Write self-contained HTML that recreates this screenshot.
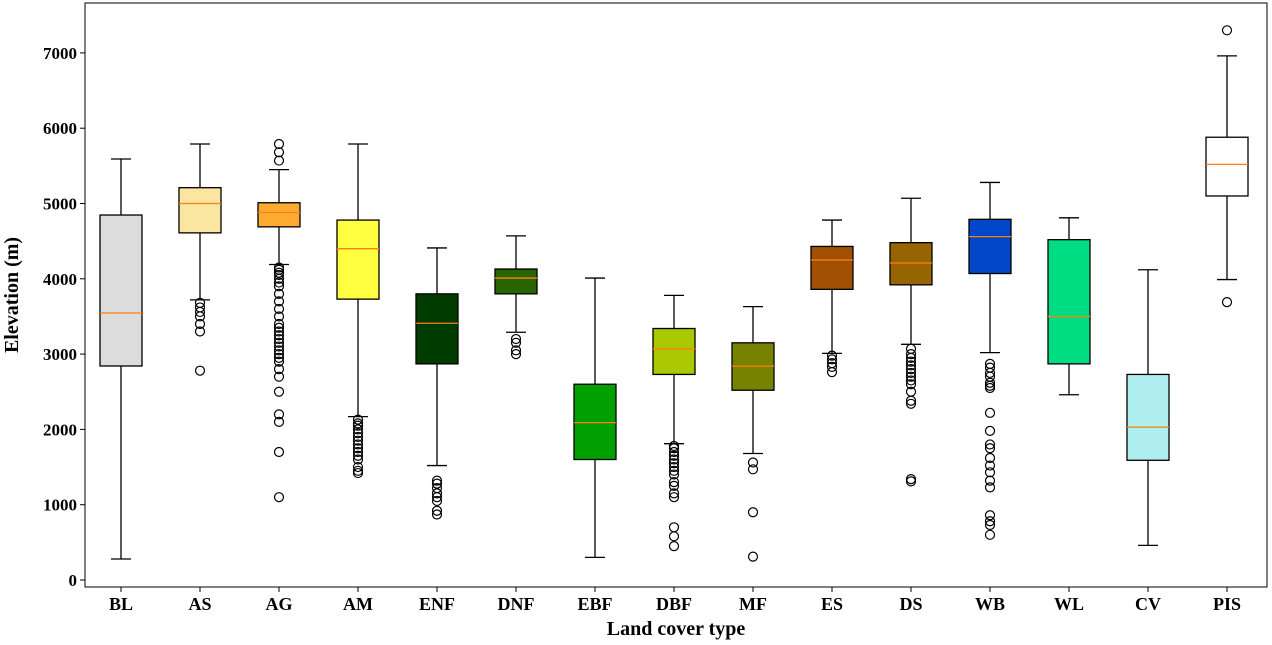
<!DOCTYPE html>
<html><head><meta charset="utf-8"><style>
body{margin:0;background:#fff;}
svg text{font-family:"Liberation Serif",serif;font-weight:bold;}
</style></head><body>
<svg id="chart" width="1272" height="640" xmlns="http://www.w3.org/2000/svg"></svg>
<script>
const categories=["BL","AS","AG","AM","ENF","DNF","EBF","DBF","MF","ES","DS","WB","WL","CV","PIS"];
const whiskerLow=[279,3720,4190,2170,1520,3290,300,1810,1680,3010,3130,3020,2460,460,3990];
const q1=[2842,4610,4690,3730,2870,3800,1600,2730,2520,3860,3920,4070,2870,1590,5100];
const medians=[3546,5000,4880,4400,3410,4010,2090,3070,2840,4250,4210,4560,3500,2030,5520];
const q3=[4847,5210,5010,4780,3800,4130,2600,3340,3150,4430,4480,4790,4520,2730,5880];
const whiskerHigh=[5591,5790,5450,5790,4410,4570,4010,3780,3630,4780,5070,5280,4810,4120,6960];
const outliers=[[],[3680,3620,3560,3500,3400,3300,2780],
[5790,5680,5570,4150,4120,4080,4050,4000,3950,3900,3800,3700,3600,3500,3400,3350,3300,3250,3200,3150,3100,3050,3000,2950,2900,2800,2700,2500,2200,2100,1700,1100],
[2130,2080,2050,2000,1950,1900,1850,1800,1750,1700,1650,1600,1500,1450,1420],
[1320,1280,1220,1150,1100,1050,920,870],
[3200,3150,3050,3000],[],
[1780,1750,1700,1650,1600,1550,1500,1450,1400,1300,1250,1150,1100,700,580,450],
[1560,1470,900,310],
[2980,2930,2880,2830,2760],
[3070,3000,2950,2900,2850,2800,2750,2700,2650,2600,2500,2380,2340,1340,1310],
[2870,2820,2750,2700,2620,2580,2550,2220,1980,1800,1750,1620,1520,1430,1320,1230,860,780,730,600],
[],[],[7300,3690]];
const colors=["#dcdcdc","#fae6a0","#ffaa32","#ffff40","#003c00","#286400","#00a000","#aac800","#788200","#a05000","#966400","#0046c8","#00dc82","#aeeeee","#ffffff"];
const yTicks=[0,1000,2000,3000,4000,5000,6000,7000];

const svg=document.getElementById('chart');
const NS='http://www.w3.org/2000/svg';
const L=85,R=1267,T=3,B=587;
const y=v=>580-v*75.3/1000;
const x=i=>121+i*79.0;
function mk(tag,attrs,parent){const e=document.createElementNS(NS,tag);for(const k in attrs)e.setAttribute(k,attrs[k]);(parent||svg).appendChild(e);return e;}
const frame=mk('rect',{x:L,y:T,width:R-L,height:B-T,fill:'none',stroke:'#000','stroke-width':1});


yTicks.forEach(v=>{
  const t=mk('line',{x1:L-5,x2:L,y1:y(v),y2:y(v),stroke:'#000'});
  
  
  const lb=mk('text',{x:L-8,y:y(v)+6,'text-anchor':'end','font-size':17});
  lb.textContent=v;
  
  
});
const hw=21;
categories.forEach((c,i)=>{
  const g=mk('g',{});
  
  
  const cx=x(i);
  mk('line',{x1:cx,x2:cx,y1:y(whiskerLow[i]),y2:y(q1[i]),stroke:'#000','stroke-width':1.3},g);
  mk('line',{x1:cx,x2:cx,y1:y(q3[i]),y2:y(whiskerHigh[i]),stroke:'#000','stroke-width':1.3},g);
  mk('line',{x1:cx-10,x2:cx+10,y1:y(whiskerLow[i]),y2:y(whiskerLow[i]),stroke:'#000','stroke-width':1.3},g);
  mk('line',{x1:cx-10,x2:cx+10,y1:y(whiskerHigh[i]),y2:y(whiskerHigh[i]),stroke:'#000','stroke-width':1.3},g);
  mk('rect',{x:cx-hw,y:y(q3[i]),width:2*hw,height:y(q1[i])-y(q3[i]),fill:colors[i],stroke:'#000','stroke-width':1.3},g);
  mk('line',{x1:cx-hw,x2:cx+hw,y1:y(medians[i]),y2:y(medians[i]),stroke:'#ff7f0e','stroke-width':1.3},g);
  outliers[i].forEach(v=>{
    const o=mk('circle',{cx:cx,cy:y(v),r:4.5,fill:'none',stroke:'#000','stroke-width':1.2},g);
    
    
  });
  const t=mk('line',{x1:cx,x2:cx,y1:B,y2:B+5,stroke:'#000'});
  
  
  const lb=mk('text',{x:cx,y:610,'text-anchor':'middle','font-size':18});
  lb.textContent=c;
  
  
});
const xt=mk('text',{x:(L+R)/2,y:635,'text-anchor':'middle','font-size':20});
xt.textContent='Land cover type';


const yt=mk('text',{x:0,y:0,'text-anchor':'middle','font-size':20,transform:'translate(18,295) rotate(-90)'});
yt.textContent='Elevation (m)';


</script>
</body></html>
